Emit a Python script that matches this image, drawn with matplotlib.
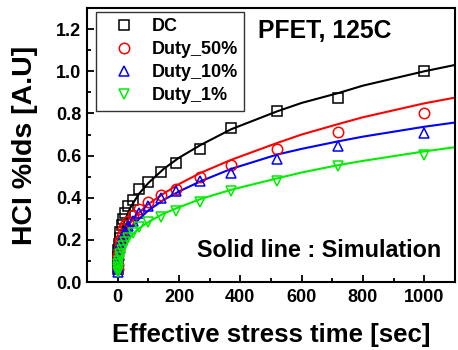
import numpy as np
import matplotlib
matplotlib.use('Agg')
import matplotlib.pyplot as plt
from matplotlib.ticker import MultipleLocator

plt.rcParams['font.family'] = ['Liberation Sans', 'DejaVu Sans']
plt.rcParams['font.weight'] = 'bold'

#==============================================================================#
# Measured data (read off the picture)
#==============================================================================#
t_meas = [1000, 720, 520, 370, 270, 190, 140, 100, 70, 50, 35, 25, 18, 13, 9, 6, 4, 2, 1, 0.5, 0.1]
dc     = [1.00, 0.875, 0.81, 0.73, 0.63, 0.565, 0.52, 0.475, 0.44, 0.39, 0.36, 0.33, 0.30, 0.27, 0.24, 0.21, 0.18, 0.15, 0.12, 0.09, 0.06]
duty50 = [0.80, 0.71, 0.633, 0.557, 0.50, 0.44, 0.415, 0.38, 0.345, 0.32, 0.29, 0.27, 0.25, 0.22, 0.20, 0.18, 0.15, 0.13, 0.11, 0.08, 0.06]
duty10 = [0.705, 0.644, 0.584, 0.518, 0.478, 0.43, 0.40, 0.36, 0.33, 0.29, 0.265, 0.24, 0.22, 0.20, 0.18, 0.16, 0.13, 0.11, 0.09, 0.07, 0.05]
duty1  = [0.605, 0.549, 0.478, 0.43, 0.382, 0.335, 0.31, 0.285, 0.26, 0.235, 0.21, 0.19, 0.17, 0.15, 0.135, 0.12, 0.10, 0.085, 0.07, 0.06, 0.05]

# Simulation curves
t_sim    = [1, 2, 5, 10, 20, 40, 70, 100, 150, 200, 270, 370, 520, 600, 720, 800, 1000, 1100]
sim_dc   = [0.12, 0.14, 0.175, 0.22, 0.28, 0.35, 0.42, 0.47, 0.537, 0.59, 0.65, 0.725, 0.81, 0.85, 0.897, 0.932, 1.0, 1.03]
sim_d50  = [0.115, 0.13, 0.16, 0.19, 0.23, 0.28, 0.33, 0.37, 0.42, 0.465, 0.518, 0.58, 0.66, 0.70, 0.75, 0.782, 0.848, 0.875]
sim_d10  = [0.11, 0.115, 0.14, 0.165, 0.20, 0.25, 0.30, 0.34, 0.39, 0.43, 0.478, 0.537, 0.605, 0.632, 0.668, 0.69, 0.737, 0.757]
sim_d1   = [0.09, 0.10, 0.12, 0.145, 0.175, 0.215, 0.255, 0.285, 0.325, 0.355, 0.394, 0.438, 0.492, 0.52, 0.555, 0.575, 0.62, 0.64]

labels = ['DC', 'Duty_50%', 'Duty_10%', 'Duty_1%']
colors = ['black', 'red', 'blue', '#00ee00']
markers = ['s', 'o', '^', 'v']

#==============================================================================#
# Plot
#==============================================================================#
fig = plt.figure(figsize=(4.58, 3.5), dpi=100)
ax = fig.add_axes([0.19, 0.194, 0.8034, 0.783])

for ys, c in zip([sim_dc, sim_d50, sim_d10, sim_d1], colors):
    ax.plot(t_sim, ys, '-', color=c, lw=1.5)

for ys, c, m, lab in zip([dc, duty50, duty10, duty1], colors, markers, labels):
    ax.plot(t_meas, ys, m, color=c, mfc='none', mec=c, ms=7.5, mew=1.1,
            linestyle='none', label=lab)

ax.set_xlim(-100, 1100)
ax.set_ylim(0, 1.3)
ax.xaxis.set_minor_locator(MultipleLocator(100))
ax.yaxis.set_minor_locator(MultipleLocator(0.1))
ax.set_xticks([0, 200, 400, 600, 800, 1000])
ax.set_yticks([0.0, 0.2, 0.4, 0.6, 0.8, 1.0, 1.2])
ax.set_yticklabels(['0.0', '0.2', '0.4', '0.6', '0.8', '1.0', '1.2'])

ax.tick_params(which='both', direction='in', top=False, right=False,
               labelsize=13, width=1.3)
ax.tick_params(which='major', length=5)
ax.tick_params(which='minor', length=3)
ax.tick_params(axis='x', pad=5)
ax.tick_params(axis='y', pad=4)
for s in ax.spines.values():
    s.set_linewidth(1.5)

ax.set_xlabel('Effective stress time [sec]', fontsize=18.5, fontweight='bold', labelpad=12)
ax.set_ylabel('HCI %Ids [A.U]', fontsize=20.5, fontweight='bold', labelpad=13)

ax.text(0.465, 0.916, 'PFET, 125C', transform=ax.transAxes, fontsize=17.8,
        fontweight='bold', va='center', ha='left')
ax.text(0.30, 0.115, 'Solid line : Simulation', transform=ax.transAxes,
        fontsize=16.8, fontweight='bold', va='center', ha='left')

leg = ax.legend(loc='upper left', bbox_to_anchor=(0.024, 0.985), fontsize=13,
                frameon=True, fancybox=False, edgecolor='black',
                handletextpad=0.35, labelspacing=0.33, borderpad=0.35,
                handlelength=2.4, borderaxespad=0)
leg.get_frame().set_linewidth(1.0)

fig.savefig('out.png', dpi=100)
